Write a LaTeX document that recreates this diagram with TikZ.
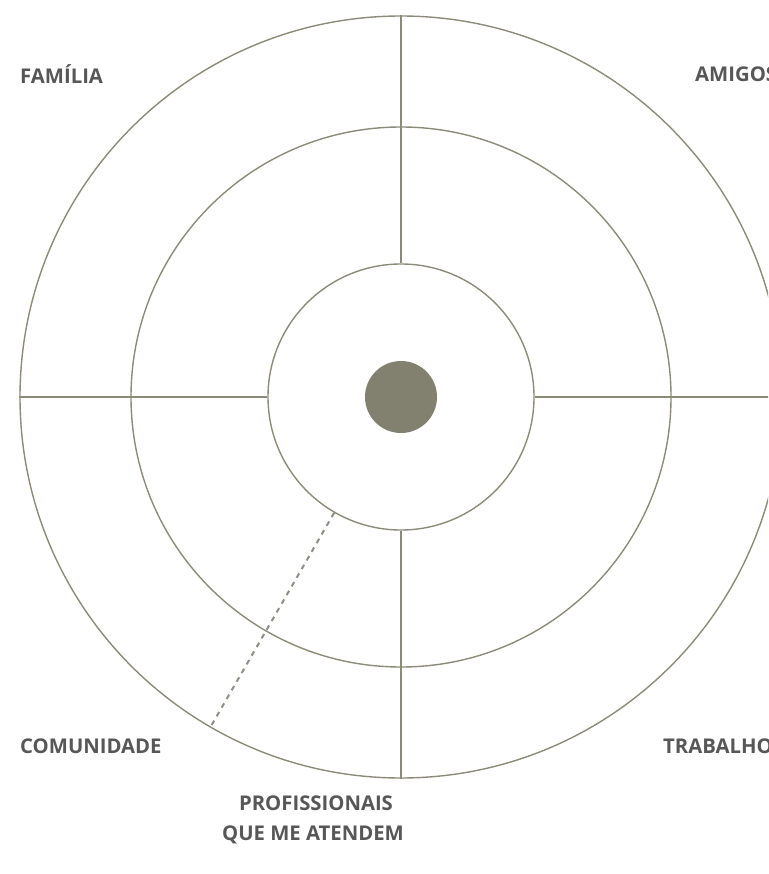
\documentclass[tikz,border=0pt]{standalone}
\usepackage{fontspec}
\setmainfont{Open Sans}
\definecolor{ringcol}{HTML}{8C8A78}
\definecolor{dotcol}{HTML}{82806E}
\definecolor{dashcol}{HTML}{8E8E88}
\definecolor{txtcol}{HTML}{575757}
\tikzset{
  ring/.style={draw=ringcol, line width=1.4pt},
  spoke/.style={draw=ringcol, line width=1.4pt},
  dashspoke/.style={draw=dashcol, line width=2pt, dash pattern=on 5pt off 5pt},
  lab/.style={text=txtcol, font=\fontsize{20.3}{32}\selectfont\bfseries, inner sep=0pt},
}
\begin{document}
\begin{tikzpicture}[x=1pt,y=-1pt]
\useasboundingbox (0,0) rectangle (768,874);
\begin{scope}
\clip (0,0) rectangle (768,874);
\coordinate (c) at (401,397);
\node[ring, circle, minimum size=762pt, inner sep=0pt] (outer) at (c) {};
\node[ring, circle, minimum size=540pt, inner sep=0pt] (mid) at (c) {};
\node[ring, circle, minimum size=266pt, inner sep=0pt] (inner) at (c) {};
\node[circle, fill=dotcol, minimum size=72pt, inner sep=0pt] (dot) at (c) {};
\draw[spoke] (outer.north) -- (inner.north);
\draw[spoke] (inner.south) -- (outer.south);
\draw[spoke] (outer.west) -- (inner.west);
\draw[spoke] (inner.east) -- (outer.east);
\draw[dashspoke] (inner.240) -- (outer.240);
\node[lab, anchor=west] (amigos) at (695,74) {AMIGOS};
\node[lab, anchor=west] (trabalho) at (663,746) {TRABALHO};
\end{scope}
\node[lab, anchor=west] (familia) at (20,74) {FAMÍLIA};
\node[lab, anchor=west] (comunidade) at (20,746) {COMUNIDADE};
\node[lab] (prof) at (316,803) {PROFISSIONAIS};
\node[lab] (prof2) at (313,835) {QUE ME ATENDEM};
\end{tikzpicture}
\end{document}
